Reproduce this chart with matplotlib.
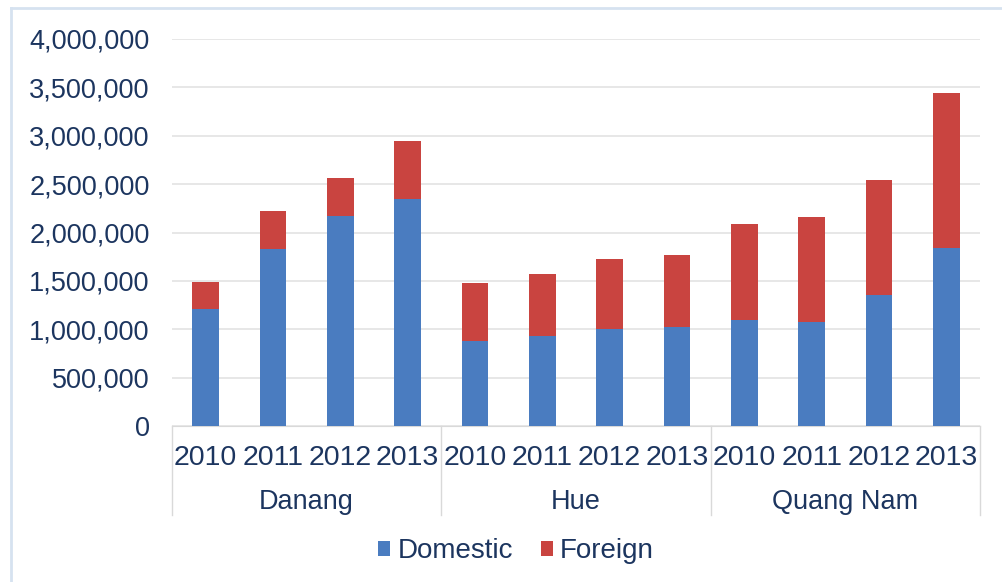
import matplotlib.pyplot as plt
from matplotlib.lines import Line2D
from matplotlib.ticker import FuncFormatter

regions = ["Danang", "Hue", "Quang Nam"]
years = ["2010", "2011", "2012", "2013"]

# visitor arrivals per region, 2010-2013
domestic = [1210000, 1830000, 2170000, 2345000,
            880000, 930000, 1000000, 1025000,
            1095000, 1075000, 1355000, 1840000]
foreign = [280000, 390000, 395000, 600000,
           600000, 640000, 725000, 740000,
           995000, 1085000, 1190000, 1600000]

blue = "#4a7cc0"
red = "#c94440"
navy = "#1c355f"
grid = "#e3e3e3"

plt.rcParams["font.family"] = ["Liberation Sans", "DejaVu Sans"]

fig = plt.figure(figsize=(10.03, 5.82), dpi=100)
ax = fig.add_axes([172 / 1003, 156 / 582, 808 / 1003, 387 / 582])

x = list(range(len(domestic)))
ax.bar(x, domestic, width=0.4, color=blue, label="Domestic", zorder=3)
ax.bar(x, foreign, width=0.4, bottom=domestic, color=red, label="Foreign", zorder=3)

ax.set_xlim(-0.5, len(x) - 0.5)
ax.set_ylim(0, 4000000)
ax.set_yticks(range(0, 4000001, 500000))
ax.yaxis.set_major_formatter(FuncFormatter(lambda v, p: f"{int(v):,}"))
ax.tick_params(axis="y", length=0, pad=16, labelsize=19.5, labelcolor=navy)
ax.set_xticks([])
ax.grid(axis="y", color=grid, linewidth=1.2, zorder=0)
for side in ["top", "right", "left"]:
    ax.spines[side].set_visible(False)
ax.spines["bottom"].set_color("#d9d9d9")

# two-level category axis: years, then region names
trans = ax.get_xaxis_transform()
for i in x:
    ax.text(i, -0.082, years[i % 4], transform=trans, ha="center", va="center",
            fontsize=20.5, color=navy)
for g, name in enumerate(regions):
    ax.text(g * 4 + 1.5, -0.197, name, transform=trans, ha="center", va="center",
            fontsize=19.5, color=navy)
for b in [-0.5, 3.5, 7.5, 11.5]:
    ax.plot([b, b], [0, -0.23], transform=trans, color="#d9d9d9",
            linewidth=1, clip_on=False)

leg = fig.legend(loc="center", bbox_to_anchor=(516 / 1003, 1 - 551 / 582), ncol=2,
                 frameon=False, fontsize=20, handlelength=0.45, handleheight=0.45,
                 handletextpad=0.25, columnspacing=1.0)
for t in leg.get_texts():
    t.set_color(navy)

# light frame around the chart
fig.add_artist(Line2D([11 / 1003, 11 / 1003], [0, 1 - 8 / 582], transform=fig.transFigure,
                      color="#d6e2f0", linewidth=2))
fig.add_artist(Line2D([11 / 1003, 1], [1 - 8 / 582, 1 - 8 / 582], transform=fig.transFigure,
                      color="#d6e2f0", linewidth=2))

fig.savefig("out.png", dpi=100)
